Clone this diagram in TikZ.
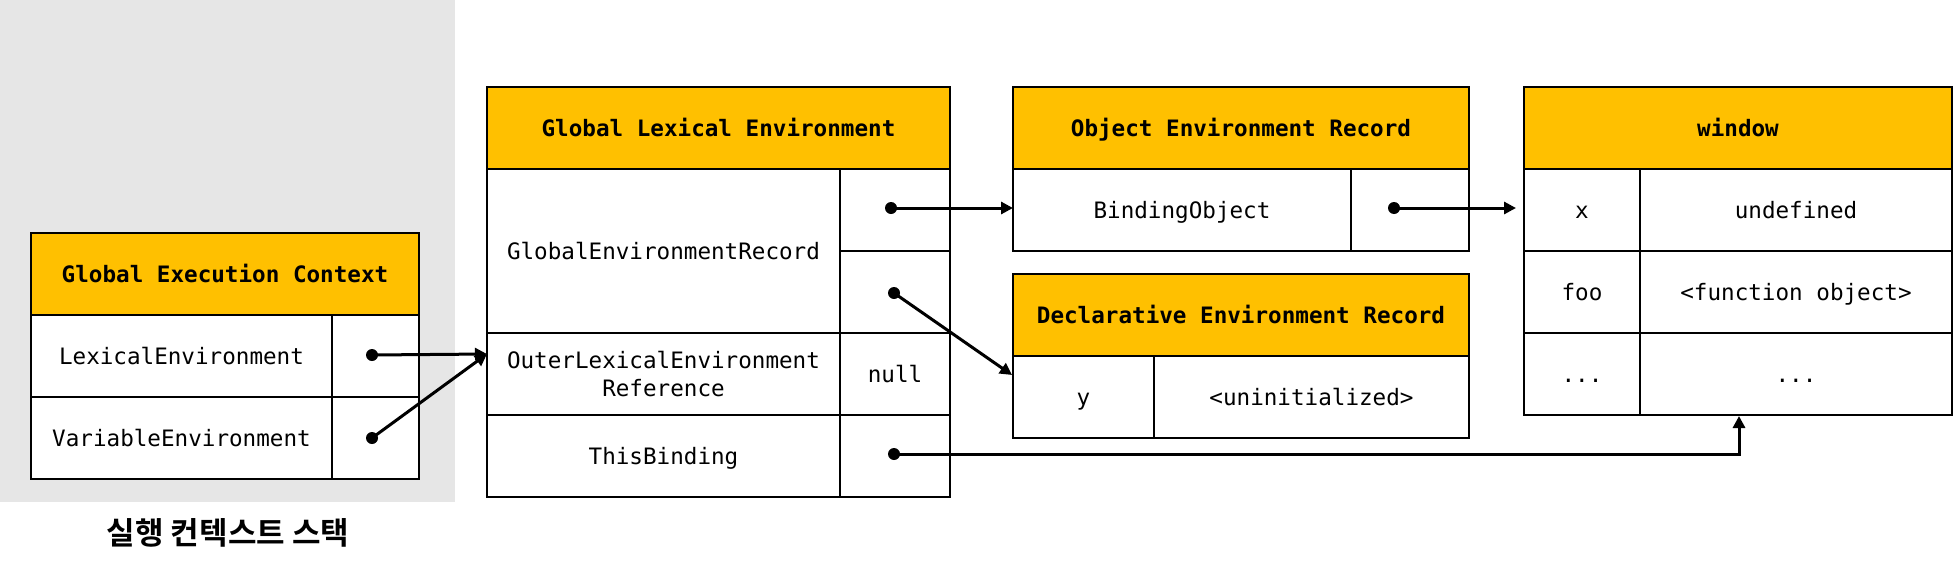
\documentclass[tikz,border=0pt]{standalone}
\usepackage{fontspec}
\setmonofont{DejaVu Sans Mono}
\newfontfamily\krfont{Noto Sans CJK KR}[BoldFont={Noto Sans CJK KR Bold}]
\usetikzlibrary{arrows.meta,calc}
\definecolor{hdr}{HTML}{FFC000}
\definecolor{bggray}{HTML}{E6E6E6}
\tikzset{
  cell/.style={draw=black, line width=2pt, fill=white, inner sep=0pt,
    text height=16.5pt, text depth=0pt,
    font=\ttfamily\fontsize{22.6}{28}\selectfont, align=center},
  hcell/.style={cell, fill=hdr, font=\ttfamily\bfseries\fontsize{22.6}{28}\selectfont},
  multicell/.style={cell, text height={}, text depth={}},
  dotnode/.style={circle, fill=black, inner sep=0pt, minimum size=12pt},
  link/.style={line width=3pt, -{Triangle[length=12pt,width=12pt]}},
  sz/.style 2 args={minimum width=#1pt, minimum height=#2pt},
}
\begin{document}
\begin{tikzpicture}[x=1pt,y=-1pt]
\useasboundingbox (0,0) rectangle (1954,568);
% background of execution context stack
\fill[bggray] (0,0) rectangle (455,502);
\node[font=\krfont\bfseries\fontsize{31}{36}\selectfont] (stack) at (228,533) {실행 컨텍스트 스택};

% Global Execution Context
\node[hcell, sz={388}{82}] (gech) at (225,274) {Global Execution Context};
\node[cell, sz={301}{82}] (geclex) at (181.5,356) {LexicalEnvironment};
\node[cell, sz={87}{82}] (geclexv) at (375.5,356) {};
\node[cell, sz={301}{82}] (gecvar) at (181.5,438) {VariableEnvironment};
\node[cell, sz={87}{82}] (gecvarv) at (375.5,438) {};

% Global Lexical Environment
\node[hcell, sz={463}{82}] (gleh) at (718.5,128) {Global Lexical Environment};
\node[cell, sz={353}{164}] (gleger) at (663.5,251) {GlobalEnvironmentRecord};
\node[cell, sz={110}{82}] (glegera) at (895,210) {};
\node[cell, sz={110}{82}] (glegerb) at (895,292) {};
\node[multicell, sz={353}{82}] (gleouter) at (663.5,374) {OuterLexicalEnvironment\\Reference};
\node[cell, sz={110}{82}] (glenull) at (895,374) {null};
\node[cell, sz={353}{82}] (glethis) at (663.5,456) {ThisBinding};
\node[cell, sz={110}{82}] (glethisv) at (895,456) {};

% Object Environment Record
\node[hcell, sz={456}{82}] (oerh) at (1241,128) {Object Environment Record};
\node[cell, sz={338}{82}] (oerbo) at (1182,210) {BindingObject};
\node[cell, sz={118}{82}] (oerbov) at (1410,210) {};

% Declarative Environment Record
\node[hcell, sz={456}{82}] (derh) at (1241,315) {Declarative Environment Record};
\node[cell, sz={141}{82}] (dery) at (1083.5,397) {y};
\node[cell, sz={315}{82}] (deryv) at (1311.5,397) {<uninitialized>};

% window
\node[hcell, sz={428}{82}] (winh) at (1738,128) {window};
\node[cell, sz={116}{82}] (winx) at (1582,210) {x};
\node[cell, sz={312}{82}] (winxv) at (1796,210) {undefined};
\node[cell, sz={116}{82}] (winfoo) at (1582,292) {foo};
\node[cell, sz={312}{82}] (winfoov) at (1796,292) {<function object>};
\node[cell, sz={116}{82}] (windots) at (1582,374) {...};
\node[cell, sz={312}{82}] (windotsv) at (1796,374) {...};

% pointer dots
\node[dotnode] (d1) at (372,355) {};
\node[dotnode] (d2) at (372,438) {};
\node[dotnode] (d3) at (891,208) {};
\node[dotnode] (d4) at (894,293) {};
\node[dotnode] (d5) at (1394,208) {};
\node[dotnode] (d6) at (894,454) {};

% targets
\coordinate (t1) at (487,354);
\coordinate (t3) at (1013,208);
\coordinate (t4) at (1012,375);
\coordinate (t5) at (1516,208);
\coordinate (t6) at (1739,416);

% connectors
\draw[link] (d1.center) -- (t1);
\draw[link] (d2.center) -- (t1);
\draw[link] (d3.center) -- (t3);
\draw[link] (d4.center) -- (t4);
\draw[link] (d5.center) -- (t5);
\draw[link] (d6.center) -| (t6);
\end{tikzpicture}
\end{document}
